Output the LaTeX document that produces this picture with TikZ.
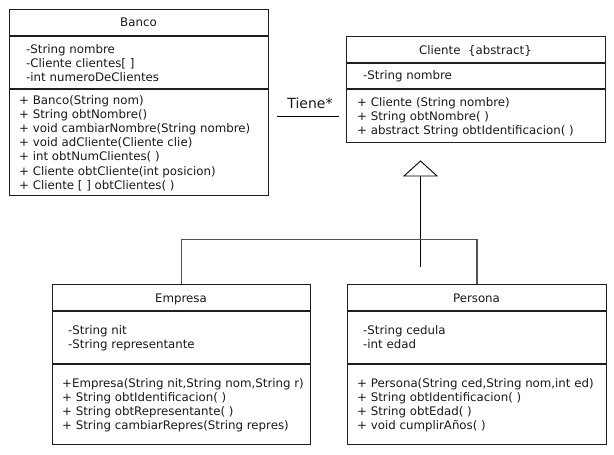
\documentclass[tikz,border=0pt]{standalone}
\usepackage{fontspec}
\setmainfont{DejaVu Sans}
\newcommand\umltext[4]{\foreach \umlline [count=\k] in {#4}{\node[txt] (#1\k) at (#2,{#3+14.2*(\k-1)}) {\umlline};}}
\begin{document}
\begin{tikzpicture}[x=1pt,y=-1pt,
  box/.style={draw=black!88, line width=1.1pt, rectangle, inner sep=0pt, anchor=north west},
  divider/.style={draw=black!88, line width=1.1pt},
  txt/.style={font=\fontsize{11.8}{14}\selectfont, inner sep=0pt, anchor=base west, text=black!90},
  ttl/.style={font=\fontsize{11.8}{14}\selectfont, inner sep=0pt, anchor=base, text=black!90},
  conn/.style={draw=black!68, line width=1.2pt},
  thin/.style={draw=black, line width=0.9pt}]
\useasboundingbox (0,0) rectangle (614,455);

% ---- Banco ----
\node[box, minimum width=259pt, minimum height=186pt] (banco) at (9,9) {};
\draw[divider] (9,36) -- (268,36);
\draw[divider] (9,89) -- (268,89);
\node[ttl] (bancoT) at (138.5,26.5) {Banco};
\umltext{bancoA}{26}{53}{-String nombre, -Cliente clientes[ ], -int numeroDeClientes}
\umltext{bancoM}{19}{104}{+ Banco(String nom), + String obtNombre(), + void cambiarNombre(String nombre), + void adCliente(Cliente clie), + int obtNumClientes( ), + Cliente obtCliente(int posicion), + Cliente [ ] obtClientes( )}

% ---- Cliente ----
\node[box, minimum width=259pt, minimum height=106pt] (cliente) at (346,36) {};
\draw[divider] (346,63) -- (605,63);
\draw[divider] (346,89) -- (605,89);
\node[ttl] (clienteT) at (475.5,54) {Cliente\ \ \{abstract\}};
\umltext{clienteA}{363}{79}{-String nombre}
\umltext{clienteM}{357}{106}{+ Cliente (String nombre), + String obtNombre( ), + abstract String obtIdentificacion( )}

% ---- Empresa ----
\node[box, minimum width=258pt, minimum height=160pt] (empresa) at (52,284) {};
\draw[divider] (52,311) -- (310,311);
\draw[divider] (52,364) -- (310,364);
\node[ttl] (empresaT) at (181,302) {Empresa};
\umltext{empresaA}{68}{334}{-String nit, -String representante}
\umltext{empresaM}{62}{387}{{+Empresa(String nit,String nom,String r)}, + String obtIdentificacion( ), + String obtRepresentante( ), + String cambiarRepres(String repres)}

% ---- Persona ----
\node[box, minimum width=259pt, minimum height=160pt] (persona) at (347,284) {};
\draw[divider] (347,311) -- (606,311);
\draw[divider] (347,364) -- (606,364);
\node[ttl] (personaT) at (476.5,302) {Persona};
\umltext{personaA}{363}{334}{-String cedula, -int edad}
\umltext{personaM}{357}{387}{{+ Persona(String ced,String nom,int ed)}, + String obtIdentificacion( ), + String obtEdad( ), + void cumplirAños( )}

% ---- association Tiene* ----
\coordinate (tieneL) at (277,116);
\coordinate (tieneR) at (339,116);
\draw[thin] (tieneL) -- (tieneR);
\node[font=\fontsize{14}{16}\selectfont, inner sep=0pt, anchor=base, text=black!90] (tiene) at (310,108) {Tiene*};

% ---- generalization ----
\coordinate (apex) at (420.5,161);
\coordinate (triL) at (404,176);
\coordinate (triR) at (437,176);
\coordinate (triB) at (420.5,176);
\coordinate (stemEnd) at (420.5,267);
\coordinate (bar) at (0,239.5);
\draw[thin, line join=miter] (apex) -- (triL) -- (triR) -- cycle;
\draw[thin] (triB) -- (stemEnd);
\draw[conn] (empresa.north) -- (empresa.north |- bar) -- (persona.north |- bar) -- (persona.north);
\end{tikzpicture}
\end{document}
